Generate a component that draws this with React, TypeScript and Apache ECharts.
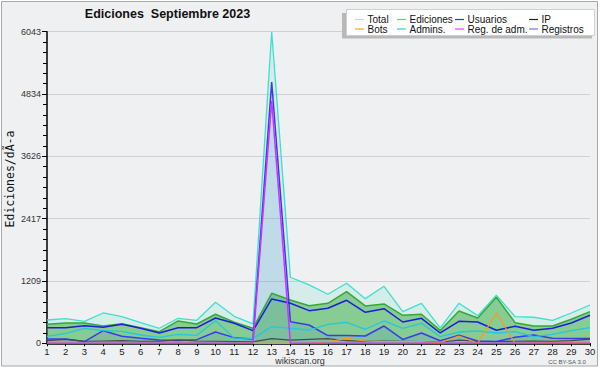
import React, { useEffect, useRef } from "react";
import * as echarts from "echarts";

const days = ["1", "2", "3", "4", "5", "6", "7", "8", "9", "10", "11", "12", "13", "14", "15", "16", "17", "18", "19", "20", "21", "22", "23", "24", "25", "26", "27", "28", "29", "30"];
const yTickLabels = [0, 1209, 2417, 3626, 4834, 6043];

const total = [452, 478, 427, 588, 516, 400, 291, 485, 446, 796, 524, 375, 6043, 1281, 1132, 951, 1164, 866, 1106, 614, 776, 300, 776, 536, 932, 517, 505, 446, 588, 743];
const ediciones = [369, 394, 394, 336, 381, 303, 226, 433, 375, 563, 407, 291, 970, 840, 730, 776, 1002, 724, 763, 543, 563, 250, 627, 491, 893, 400, 336, 336, 466, 614];
const usuarios = [303, 303, 342, 310, 369, 291, 200, 303, 303, 491, 388, 245, 860, 776, 633, 679, 834, 602, 672, 413, 485, 200, 427, 413, 252, 330, 252, 291, 394, 543];
const ip = [50, 75, 40, 45, 50, 40, 40, 65, 45, 40, 35, 30, 90, 60, 75, 90, 50, 40, 45, 40, 35, 20, 60, 40, 35, 40, 45, 40, 50, 80];
const bots = [0, 0, 0, 0, 0, 0, 0, 0, 0, 0, 0, 0, 0, 0, 0, 30, 97, 45, 32, 32, 32, 12, 142, 0, 582, 0, 10, 10, 10, 10];
const admins = [136, 194, 291, 245, 233, 161, 116, 175, 155, 439, 100, 97, 322, 291, 258, 369, 407, 272, 433, 291, 388, 128, 219, 239, 200, 225, 128, 175, 245, 303];
const regAdm = [3, 3, 3, 3, 3, 3, 3, 3, 3, 3, 3, 3, 4700, 0, 0, 0, 0, 0, 0, 0, 0, 0, 0, 0, 0, 0, 0, 0, 0, 0];
const registros = [83, 84, 33, 245, 135, 97, 65, 52, 71, 220, 110, 84, 5066, 420, 355, 150, 150, 142, 335, 75, 200, 50, 155, 45, 35, 116, 161, 100, 95, 95];

const legendItems = [
  { name: "Total", color: "#9fe8e2" },
  { name: "Bots", color: "#ffa030" },
  { name: "Ediciones", color: "#6fcf6f" },
  { name: "Admins.", color: "#30d0e0" },
  { name: "Usuarios", color: "#3030ff" },
  { name: "Reg. de adm.", color: "#e040ff" },
  { name: "IP", color: "#222222" },
  { name: "Registros", color: "#7070ff" },
];

const FONT = "'Liberation Sans', Arial, sans-serif";

function lineSeries(name: string, data: number[], color: string, width: number, area?: string) {
  const s: any = {
    name,
    type: "line",
    data,
    showSymbol: false,
    symbol: "none",
    lineStyle: { color, width },
    itemStyle: { color },
    emphasis: { disabled: true },
  };
  if (area) s.areaStyle = { color: area, opacity: 1 };
  return s;
}

export default function App() {
  const ref = useRef<HTMLDivElement>(null);
  useEffect(() => {
    const chart = echarts.init(ref.current!, null, { renderer: "svg" });
    const colX = [355, 397, 455, 529];
    const rowY = [19.5, 29];
    const legendGraphics: any[] = [];
    legendItems.forEach((it, i) => {
      const c = Math.floor(i / 2);
      const r = i % 2;
      legendGraphics.push({
        type: "line",
        shape: { x1: colX[c], y1: rowY[r], x2: colX[c] + 9, y2: rowY[r] },
        style: { stroke: it.color, lineWidth: 1.2 },
        z: 102,
      });
      legendGraphics.push({
        type: "text",
        x: colX[c] + 12.5,
        y: rowY[r],
        style: { text: it.name, fill: "#111", font: `10px ${FONT}`, textVerticalAlign: "middle", textAlign: "left" },
        z: 102,
      });
    });

    chart.setOption({
      animation: false,
      backgroundColor: "#ffffff",
      grid: { left: 47, right: 10, top: 31.7, bottom: 26.7, containLabel: false },
      xAxis: {
        type: "category",
        data: days,
        boundaryGap: false,
        axisLine: { show: true, lineStyle: { color: "#000", width: 1.5 } },
        axisTick: { show: true, alignWithLabel: true, length: 3, lineStyle: { color: "#000" } },
        axisLabel: { color: "#222", fontSize: 9.5, fontFamily: FONT, margin: 3, interval: 0 },
        splitLine: { show: false },
      },
      yAxis: {
        type: "value",
        min: 0,
        max: 6043,
        interval: 1208.6,
        axisLine: { show: true, lineStyle: { color: "#000", width: 1.5 } },
        axisTick: { show: true, length: 5, lineStyle: { color: "#000" } },
        minorTick: { show: true, splitNumber: 6, length: 4, lineStyle: { color: "#000" } },
        axisLabel: {
          color: "#333",
          fontSize: 9,
          fontFamily: FONT,
          margin: 6,
          formatter: (v: number) => {
            const idx = Math.round(v / 1208.6);
            return String(yTickLabels[idx] ?? Math.round(v));
          },
        },
        splitLine: { show: true, lineStyle: { color: "#cfd0d2", width: 1 } },
      },
      graphic: [
        {
          type: "rect",
          shape: { x: 1.5, y: 1.5, width: 596, height: 364.5 },
          style: { fill: "#eff0f1", stroke: "#a9a9a9", lineWidth: 1 },
          z: -10,
          silent: true,
        },
        {
          type: "text",
          x: 167.5,
          y: 14,
          style: { text: "Ediciones  Septiembre 2023", fill: "#111", font: `bold 12.5px ${FONT}`, textAlign: "center", textVerticalAlign: "middle" },
        },
        {
          type: "text",
          x: 10,
          y: 179,
          rotation: Math.PI / 2,
          style: { text: "Ediciones/dÃ-a", fill: "#111", font: "11.5px 'DejaVu Sans Mono', monospace", textAlign: "center", textVerticalAlign: "middle" },
        },
        {
          type: "text",
          x: 300,
          y: 360.5,
          style: { text: "wikiscan.org", fill: "#333", font: `9px ${FONT}`, textAlign: "center", textVerticalAlign: "middle" },
        },
        {
          type: "text",
          x: 567,
          y: 362,
          style: { text: "CC BY-SA 3.0", fill: "#555", font: `6px ${FONT}`, textAlign: "center", textVerticalAlign: "middle" },
        },
        {
          type: "rect",
          shape: { x: 342, y: 13, width: 250, height: 25.5 },
          style: { fill: "#b9b9b9" },
          z: 100,
        },
        {
          type: "rect",
          shape: { x: 346.5, y: 9.5, width: 248, height: 26 },
          style: { fill: "#ffffff", stroke: "#cfcfcf", lineWidth: 1 },
          z: 101,
        },
        ...legendGraphics,
      ],
      series: [
        lineSeries("Total", total, "#3fdfcf", 1.3, "rgba(80,225,190,0.16)"),
        lineSeries("Ediciones", ediciones, "#36a836", 1.5, "rgba(40,165,40,0.45)"),
        lineSeries("Registros", registros, "#3a3af2", 1.5, "rgba(60,120,220,0.15)"),
        lineSeries("Usuarios", usuarios, "#1d1de0", 1.5),
        lineSeries("Admins.", admins, "#20c8e0", 1.3),
        lineSeries("IP", ip, "#4a4a4a", 1.2),
        lineSeries("Bots", bots, "#ff9a10", 1.2),
        lineSeries("Reg. de adm.", regAdm, "#cc33ff", 1.5),
      ],
    });
    return () => chart.dispose();
  }, []);
  return <div ref={ref} style={{ position: "absolute", left: 0, top: 0, width: 600, height: 370 }} />;
}
